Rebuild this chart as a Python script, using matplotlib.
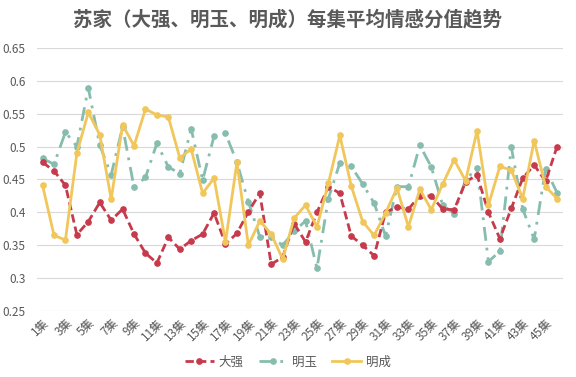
"""苏家（大强、明玉、明成）每集平均情感分值趋势 line chart."""
import matplotlib
matplotlib.use("Agg")
import matplotlib.pyplot as plt

plt.rcParams['font.family'] = ['Noto Sans CJK SC', 'DejaVu Sans']

episodes = [f"{i}集" for i in range(1, 47)]

daqiang = [0.476, 0.463, 0.441, 0.366, 0.386, 0.415, 0.388, 0.405, 0.367, 0.338,
           0.323, 0.362, 0.344, 0.357, 0.367, 0.399, 0.352, 0.368, 0.401, 0.429,
           0.321, 0.332, 0.383, 0.355, 0.400, 0.439, 0.429, 0.364, 0.350, 0.334,
           0.400, 0.408, 0.405, 0.425, 0.425, 0.405, 0.404, 0.446, 0.457, 0.400,
           0.360, 0.406, 0.452, 0.472, 0.447, 0.500]

mingyu = [0.482, 0.473, 0.522, 0.500, 0.589, 0.502, 0.457, 0.530, 0.438, 0.453,
          0.505, 0.469, 0.459, 0.527, 0.449, 0.516, 0.520, 0.476, 0.416, 0.363,
          0.362, 0.350, 0.371, 0.387, 0.315, 0.421, 0.475, 0.470, 0.443, 0.414,
          0.364, 0.439, 0.439, 0.502, 0.469, 0.411, 0.398, 0.449, 0.468, 0.325,
          0.341, 0.499, 0.405, 0.359, 0.466, 0.430]

mingcheng = [0.441, 0.365, 0.358, 0.490, 0.552, 0.518, 0.420, 0.533, 0.501, 0.557,
             0.548, 0.545, 0.483, 0.496, 0.429, 0.452, 0.355, 0.476, 0.350, 0.387,
             0.367, 0.329, 0.391, 0.411, 0.378, 0.444, 0.517, 0.440, 0.386, 0.365,
             0.399, 0.437, 0.378, 0.435, 0.404, 0.443, 0.480, 0.448, 0.524, 0.411,
             0.470, 0.464, 0.421, 0.509, 0.439, 0.421]

y_ticks = [0.25, 0.3, 0.35, 0.4, 0.45, 0.5, 0.55, 0.6, 0.65]
y_labels = ["0.25", "0.3", "0.35", "0.4", "0.45", "0.5", "0.55", "0.6", "0.65"]

RED = '#C63A4C'
TEAL = '#86BDAE'
YELLOW = '#F1C75B'
TEXT = '#595959'

fig = plt.figure(figsize=(5.76, 3.77), dpi=100)
ax = fig.add_axes([0.064, 0.175, 0.913, 0.698])

x = list(range(1, len(episodes) + 1))
ax.plot(x, daqiang, color=RED, lw=2, ls=(0, (3, 1.5)), marker='o', ms=3.8,
        label='大强', zorder=3)
ax.plot(x, mingyu, color=TEAL, lw=2, ls=(0, (5, 2.5, 1, 2.5)), marker='o', ms=3.8,
        label='明玉', zorder=2)
ax.plot(x, mingcheng, color=YELLOW, lw=2, ls='-', marker='o', ms=3.8,
        label='明成', zorder=4)

ax.set_xlim(0.5, len(episodes) + 0.5)
ax.set_ylim(0.25, 0.65)
ax.set_yticks(y_ticks)
ax.set_yticklabels(y_labels)
ax.set_xticks(x[::2])
ax.set_xticklabels(episodes[::2], rotation=45, ha='right', rotation_mode='anchor')

ax.grid(axis='y', color='#D9D9D9', lw=0.8)
ax.set_axisbelow(True)
for s in ax.spines.values():
    s.set_visible(False)
ax.tick_params(axis='both', length=0, labelsize=8.5, labelcolor=TEXT)
ax.tick_params(axis='y', pad=8)
ax.tick_params(axis='x', pad=4)

fig.suptitle('苏家（大强、明玉、明成）每集平均情感分值趋势', fontsize=14,
             fontweight='bold', color=TEXT, y=0.975)

fig.legend(loc='center', bbox_to_anchor=(0.5, 0.04), ncol=3, frameon=False,
           fontsize=9, handlelength=2.3, handletextpad=0.4, columnspacing=1.2,
           labelcolor=TEXT)

fig.savefig('out.png', dpi=100, facecolor='white')
